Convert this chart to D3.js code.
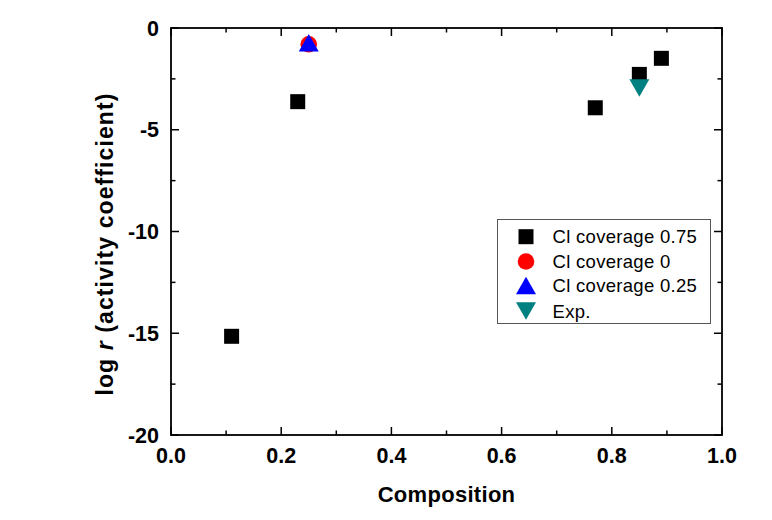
<!DOCTYPE html>
<meta charset="utf-8">
<head>
  <style>
  body { margin: 0; background: #fff; }
  svg { font-family: "Liberation Sans", Arial, sans-serif; }
  .tick-label { font-weight: bold; font-size: 21.5px; }
  .axis-title { font-weight: bold; font-size: 22px; }
  .legend text { font-size: 18.5px; }
  </style>
</head>
<body>
<svg width="772" height="520"></svg>
<script src="https://d3js.org/d3.v7.min.js"></script>
<script>

// data
var cl075X = [0.11, 0.23, 0.77, 0.85, 0.89];
var cl075Y = [-15.15, -3.62, -3.92, -2.28, -1.49];
var cl0X = [0.25];
var cl0Y = [-0.8];
var cl025X = [0.25];
var cl025Y = [-0.73];
var expX = [0.85];
var expY = [-2.95];

var xTicks = [0.0, 0.2, 0.4, 0.6, 0.8, 1.0];
var xMinor = [0.1, 0.3, 0.5, 0.7, 0.9];
var yTicks = [0, -5, -10, -15, -20];
var yMinor = [-2.5, -7.5, -12.5, -17.5];
var legendNames = ["Cl coverage 0.75", "Cl coverage 0", "Cl coverage 0.25", "Exp."];

var svg = d3.select("svg");
var pLeft = 171, pRight = 722, pTop = 28, pBottom = 435;

var x = d3.scaleLinear().domain([0, 1]).range([pLeft, pRight]);
var y = d3.scaleLinear().domain([-20, 0]).range([pBottom, pTop]);

// ticks (inward, all four sides)
var tickG = svg.append("g").attr("stroke", "#000").attr("stroke-width", 1.5);
function vTicks(vals, len) {
  vals.forEach(function(v) {
    tickG.append("line").attr("x1", x(v)).attr("x2", x(v)).attr("y1", pBottom).attr("y2", pBottom - len);
    tickG.append("line").attr("x1", x(v)).attr("x2", x(v)).attr("y1", pTop).attr("y2", pTop + len);
  });
}
function hTicks(vals, len) {
  vals.forEach(function(v) {
    tickG.append("line").attr("y1", y(v)).attr("y2", y(v)).attr("x1", pLeft).attr("x2", pLeft + len);
    tickG.append("line").attr("y1", y(v)).attr("y2", y(v)).attr("x1", pRight).attr("x2", pRight - len);
  });
}
vTicks(xTicks, 8); vTicks(xMinor, 4.5);
hTicks(yTicks, 8); hTicks(yMinor, 4.5);

svg.append("rect")
  .attr("x", pLeft).attr("y", pTop)
  .attr("width", pRight - pLeft).attr("height", pBottom - pTop)
  .attr("fill", "none").attr("stroke", "#000").attr("stroke-width", 1.8);

// tick labels
svg.selectAll(".xl").data(xTicks).enter().append("text")
  .attr("class", "tick-label")
  .attr("x", function(d) { return x(d); })
  .attr("y", 463)
  .attr("text-anchor", "middle")
  .text(function(d) { return d3.format(".1f")(d); });

svg.selectAll(".yl").data(yTicks).enter().append("text")
  .attr("class", "tick-label")
  .attr("x", 159)
  .attr("y", function(d) { return y(d) + 7.5; })
  .attr("text-anchor", "end")
  .text(function(d) { return d; });

// axis titles
svg.append("text").attr("class", "axis-title")
  .attr("x", 446.5).attr("y", 502)
  .attr("text-anchor", "middle")
  .style("letter-spacing", "0.3px")
  .text("Composition");

var yt = svg.append("text").attr("class", "axis-title")
  .attr("transform", "translate(113,244) rotate(-90)")
  .attr("text-anchor", "middle")
  .style("font-size", "23px")
  .style("letter-spacing", "1.1px");
yt.append("tspan").text("log ");
yt.append("tspan").style("font-style", "italic").text("r");
yt.append("tspan").text(" (activity coefficient)");

// marker paths
function sq(s) { return "M" + (-s/2) + "," + (-s/2) + "h" + s + "v" + s + "h" + (-s) + "Z"; }
function triUp(w, h) { return "M0," + (-h/2) + "L" + (w/2) + "," + (h/2) + "L" + (-w/2) + "," + (h/2) + "Z"; }
function triDown(w, h) { return "M0," + (h/2) + "L" + (w/2) + "," + (-h/2) + "L" + (-w/2) + "," + (-h/2) + "Z"; }

var markers = [
  { xs: cl075X, ys: cl075Y, d: sq(15), color: "#000000" },
  { xs: cl0X, ys: cl0Y, circle: 8.3, color: "#ff0000" },
  { xs: cl025X, ys: cl025Y, d: triUp(20, 17.5), color: "#0000ff" },
  { xs: expX, ys: expY, d: triDown(20, 17.5), color: "#008080" }
];

markers.forEach(function(m) {
  var g = svg.append("g");
  m.xs.forEach(function(xv, i) {
    if (m.circle) {
      g.append("circle").attr("cx", x(xv)).attr("cy", y(m.ys[i])).attr("r", m.circle).attr("fill", m.color);
    } else {
      g.append("path").attr("d", m.d)
        .attr("transform", "translate(" + x(xv) + "," + y(m.ys[i]) + ")")
        .attr("fill", m.color);
    }
  });
});

// legend
var lg = svg.append("g").attr("class", "legend");
lg.append("rect")
  .attr("x", 497.5).attr("y", 219.5).attr("width", 213).attr("height", 104)
  .attr("fill", "#fff").attr("stroke", "#555").attr("stroke-width", 1);

var rowY = [236.7, 261.5, 285.5, 311];
markers.forEach(function(m, i) {
  if (m.circle) {
    lg.append("circle").attr("cx", 526).attr("cy", rowY[i]).attr("r", m.circle).attr("fill", m.color);
  } else {
    lg.append("path").attr("d", m.d)
      .attr("transform", "translate(526," + rowY[i] + ")")
      .attr("fill", m.color);
  }
  lg.append("text")
    .attr("x", 552.5).attr("y", rowY[i] + 6.5)
    .style("letter-spacing", "0.3px")
    .text(legendNames[i]);
});

</script>
</body>
